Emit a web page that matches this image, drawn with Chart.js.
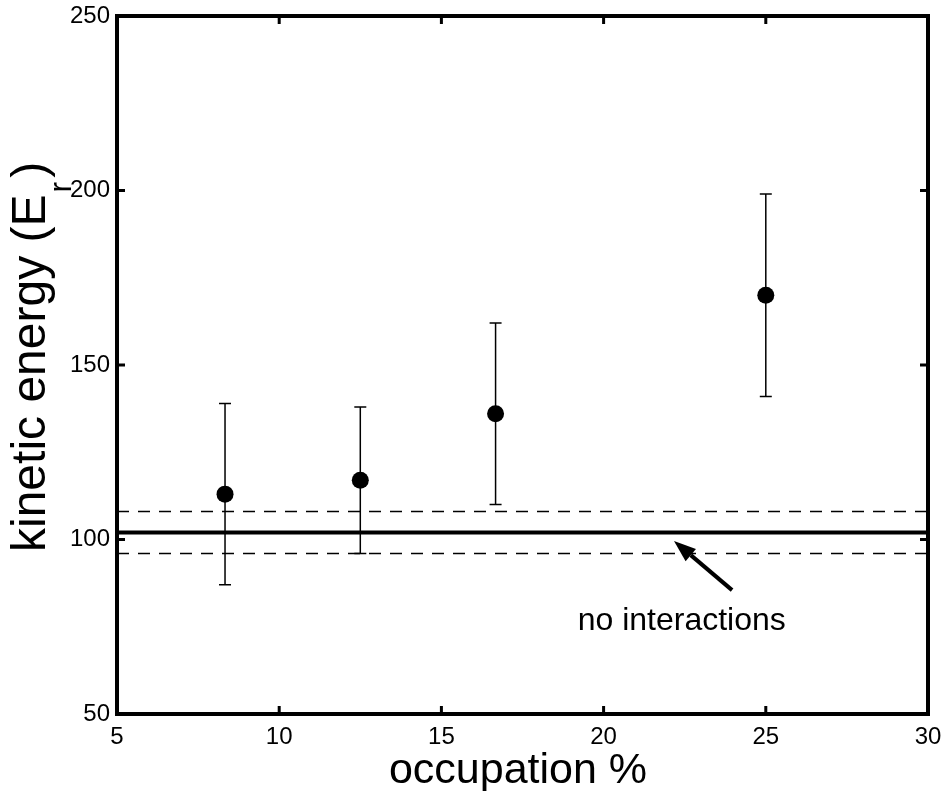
<!DOCTYPE html>
<html lang="en">
<head>
  <meta charset="UTF-8" />
  <title>kinetic energy vs occupation</title>
  <script src="https://cdn.jsdelivr.net/npm/chart.js"></script>
  <style>
    body {
      margin: 0;
      background: #ffffff;
    }

    .chart-box {
      width: 943px;
      height: 791px;
    }
  </style>
</head>
<body>
  <div class="chart-box">
    <canvas id="keChart"></canvas>
  </div>

  <script>
    // data
    const occupation = [8.33, 12.5, 16.67, 25];
    const energy = [113, 117, 136, 170];
    const energyLow = [87, 96, 110, 141];
    const energyHigh = [139, 138, 162, 199];

    const noInteraction = 102;
    const noInteractionBand = [96, 108];

    const xRange = [5, 30];
    const yRange = [50, 250];
    const xTicks = [5, 10, 15, 20, 25, 30];
    const yTicks = [50, 100, 150, 200, 250];

    // annotation "no interactions" with an arrow (data coords)
    const noteText = "no interactions";
    const notePos = { x: 19.2, y: 74.1 };
    const arrowFrom = { x: 23.96, y: 85.5 };
    const arrowTo = { x: 22.17, y: 99.6 };

    const FONT = "'Liberation Sans', Arial, Helvetica, sans-serif";

    const framePlugin = {
      id: "frame",
      beforeDatasetsDraw(chart) {
        const { ctx, scales: { x, y } } = chart;
        // error bars
        ctx.save();
        ctx.strokeStyle = "#000";
        ctx.lineWidth = 1.5;
        occupation.forEach((ov, i) => {
          const px = x.getPixelForValue(ov);
          const top = y.getPixelForValue(energyHigh[i]);
          const bot = y.getPixelForValue(energyLow[i]);
          ctx.beginPath();
          ctx.moveTo(px, top);
          ctx.lineTo(px, bot);
          ctx.moveTo(px - 6, top);
          ctx.lineTo(px + 6, top);
          ctx.moveTo(px - 6, bot);
          ctx.lineTo(px + 6, bot);
          ctx.stroke();
        });
        ctx.restore();
      },
      afterDraw(chart) {
        const { ctx, chartArea: a, scales: { x, y } } = chart;
        ctx.save();

        // box
        ctx.strokeStyle = "#000";
        ctx.lineWidth = 4;
        ctx.strokeRect(a.left, a.top, a.right - a.left, a.bottom - a.top);

        // inward ticks
        ctx.lineWidth = 3;
        ctx.beginPath();
        yTicks.slice(1, -1).forEach(v => {
          const py = y.getPixelForValue(v);
          ctx.moveTo(a.left, py);
          ctx.lineTo(a.left + 8, py);
          ctx.moveTo(a.right, py);
          ctx.lineTo(a.right - 8, py);
        });
        xTicks.slice(1, -1).forEach(v => {
          const px = x.getPixelForValue(v);
          ctx.moveTo(px, a.bottom);
          ctx.lineTo(px, a.bottom - 8);
          ctx.moveTo(px, a.top);
          ctx.lineTo(px, a.top + 8);
        });
        ctx.stroke();

        // arrow
        const x0 = x.getPixelForValue(arrowFrom.x), y0 = y.getPixelForValue(arrowFrom.y);
        const x1 = x.getPixelForValue(arrowTo.x), y1 = y.getPixelForValue(arrowTo.y);
        const ang = Math.atan2(y1 - y0, x1 - x0);
        const headLen = 22, headW = 8;
        const bx = x1 - headLen * Math.cos(ang), by = y1 - headLen * Math.sin(ang);
        ctx.lineWidth = 4;
        ctx.beginPath();
        ctx.moveTo(x0, y0);
        ctx.lineTo(bx, by);
        ctx.stroke();
        ctx.fillStyle = "#000";
        ctx.beginPath();
        ctx.moveTo(x1, y1);
        ctx.lineTo(bx + headW * Math.sin(ang), by - headW * Math.cos(ang));
        ctx.lineTo(bx - headW * Math.sin(ang), by + headW * Math.cos(ang));
        ctx.closePath();
        ctx.fill();

        // note
        ctx.font = "32px " + FONT;
        ctx.textAlign = "left";
        ctx.textBaseline = "alphabetic";
        ctx.fillText(noteText, x.getPixelForValue(notePos.x), y.getPixelForValue(notePos.y));

        // x title
        ctx.font = "43px " + FONT;
        ctx.textAlign = "center";
        ctx.fillText("occupation %", 518, 783);

        // y title with subscript
        ctx.translate(45, 552);
        ctx.rotate(-Math.PI / 2);
        ctx.textAlign = "left";
        ctx.font = "48px " + FONT;
        const main = "kinetic energy (E";
        const w = ctx.measureText(main).width;
        ctx.fillText(main, 0, 0);
        ctx.font = "32px " + FONT;
        ctx.fillText("r", w + 2, 26);
        const rw = ctx.measureText("r").width;
        ctx.font = "48px " + FONT;
        ctx.fillText(")", w + rw + 6, 0);

        ctx.restore();
      }
    };

    new Chart(document.getElementById("keChart"), {
      type: "scatter",
      data: {
        datasets: [
          {
            label: "data",
            data: occupation.map((v, i) => ({ x: v, y: energy[i] })),
            pointRadius: 8.5,
            pointBackgroundColor: "#000",
            pointBorderColor: "#000",
            pointBorderWidth: 0
          },
          {
            label: "no interactions",
            data: xRange.map(v => ({ x: v, y: noInteraction })),
            showLine: true,
            borderColor: "#000",
            borderWidth: 4,
            pointRadius: 0
          },
          {
            label: "band low",
            data: xRange.map(v => ({ x: v, y: noInteractionBand[0] })),
            showLine: true,
            borderColor: "#000",
            borderWidth: 1.5,
            borderDash: [12, 9],
            pointRadius: 0
          },
          {
            label: "band high",
            data: xRange.map(v => ({ x: v, y: noInteractionBand[1] })),
            showLine: true,
            borderColor: "#000",
            borderWidth: 1.5,
            borderDash: [12, 9],
            pointRadius: 0
          }
        ]
      },
      options: {
        responsive: true,
        maintainAspectRatio: false,
        animation: false,
        layout: {
          padding: { top: 16, right: 15, left: 0, bottom: 0 }
        },
        plugins: {
          legend: { display: false },
          tooltip: { enabled: false }
        },
        scales: {
          x: {
            type: "linear",
            min: xRange[0],
            max: xRange[1],
            afterFit: s => {
              s.height = 77;
              s.paddingLeft = 0;
              s.paddingRight = 0;
            },
            afterBuildTicks: s => { s.ticks = xTicks.map(v => ({ value: v })); },
            grid: { display: false, drawTicks: false },
            border: { display: false },
            ticks: {
              color: "#000",
              padding: 9,
              font: { size: 24, family: FONT }
            }
          },
          y: {
            type: "linear",
            min: yRange[0],
            max: yRange[1],
            afterFit: s => {
              s.width = 117;
              s.paddingTop = 0;
              s.paddingBottom = 0;
            },
            afterBuildTicks: s => { s.ticks = yTicks.map(v => ({ value: v })); },
            grid: { display: false, drawTicks: false },
            border: { display: false },
            ticks: {
              color: "#000",
              padding: 7,
              font: { size: 24, family: FONT }
            }
          }
        }
      },
      plugins: [framePlugin]
    });
  </script>
</body>
</html>
